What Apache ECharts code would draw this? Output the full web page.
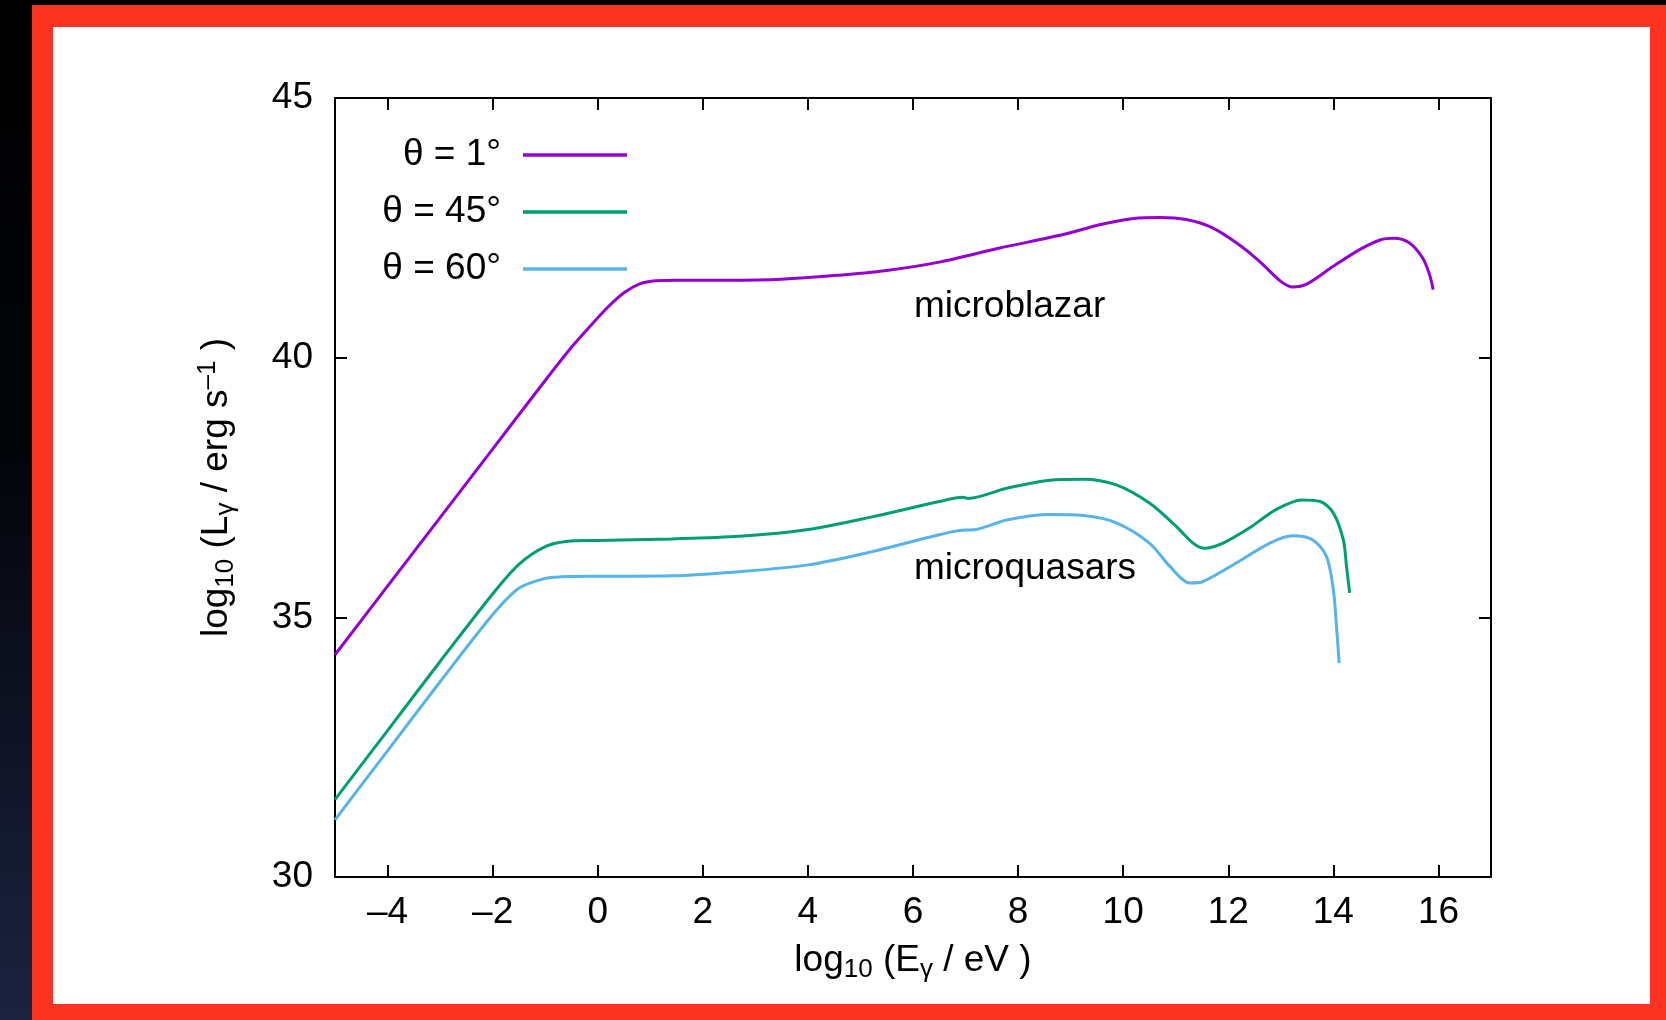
<!DOCTYPE html>
<html>
<head>
<meta charset="utf-8">
<title>Gamma-ray luminosity vs energy</title>
<script src="https://cdn.jsdelivr.net/npm/echarts@6/dist/echarts.min.js"></script>
<style>
  html, body { margin: 0; padding: 0; width: 1666px; height: 1020px; overflow: hidden;
    background: linear-gradient(to bottom, #000 0%, #03050a 45%, #1b2340 100%); }
  #frame { position: absolute; left: 32px; top: 5px; right: 0; bottom: 0; background: #fd3322; }
  #panel { position: absolute; left: 53px; top: 27px; width: 1597px; height: 977px; background: #fff; }
  #chart { position: absolute; left: 0; top: 0; width: 1666px; height: 1020px; }
</style>
</head>
<body>
<div id="frame"></div>
<div id="panel"></div>
<div id="chart"></div>
<script>
// log10(E / eV) and log10(L / erg s^-1) for each viewing angle
const energyTheta1 = [-5, -4, -3, -2, -1, -0.5, -0.15, 0.2, 0.5, 0.8, 1.1, 1.5, 2.5, 3.5, 4.5, 5.5, 6.5, 7.65,
  8.9, 9.55, 10.2, 10.7, 11.2, 11.7, 12.2, 12.6, 13.0, 13.23, 13.5, 14.0, 14.5, 14.9, 15.15, 15.45, 15.7, 15.83, 15.9];
const lumTheta1 = [34.28, 35.6, 36.92, 38.24, 39.56, 40.2, 40.6, 40.98, 41.25, 41.42, 41.48, 41.49, 41.49, 41.51,
  41.58, 41.68, 41.84, 42.11, 42.38, 42.56, 42.68, 42.70, 42.66, 42.50, 42.18, 41.85, 41.47, 41.36, 41.42, 41.76,
  42.08, 42.27, 42.30, 42.21, 41.92, 41.60, 41.31];

const energyTheta45 = [-5, -4, -3, -2, -1.5, -1.0, -0.6, 0, 1.4, 2.7, 4.0, 5.2, 6.5, 6.95, 7.05, 7.8, 8.6, 9.24,
  9.87, 10.5, 11.0, 11.33, 11.55, 11.9, 12.4, 12.9, 13.4, 13.75, 14.0, 14.19, 14.25, 14.31];
const lumTheta45 = [31.49, 32.82, 34.15, 35.45, 36.02, 36.36, 36.46, 36.48, 36.51, 36.56, 36.69, 36.93, 37.23, 37.31,
  37.29, 37.49, 37.64, 37.66, 37.55, 37.20, 36.76, 36.43, 36.33, 36.43, 36.72, 37.07, 37.26, 37.23, 37.01, 36.49,
  35.98, 35.47];

const energyTheta60 = [-5, -4, -3, -2, -1.5, -1.0, -0.7, 0, 1.4, 2.7, 4.0, 5.2, 6.5, 7.0, 7.1, 7.8, 8.6, 9.24, 9.87,
  10.5, 10.89, 11.27, 11.52, 12.16, 12.79, 13.23, 13.61, 13.87, 14.0, 14.06, 14.11];
const lumTheta60 = [31.10, 32.43, 33.76, 35.05, 35.56, 35.75, 35.78, 35.79, 35.80, 35.88, 36.01, 36.26, 36.59, 36.68,
  36.68, 36.88, 36.98, 36.96, 36.82, 36.43, 35.98, 35.66, 35.69, 36.05, 36.43, 36.57, 36.49, 36.17, 35.53, 34.82,
  34.12];

const seriesNames = ['θ = 1°', 'θ = 45°', 'θ = 60°'];
const seriesColors = ['#9400d3', '#009e73', '#56b4e9'];
const xTickValues = [-4, -2, 0, 2, 4, 6, 8, 10, 12, 14, 16];
const regionLabels = ['microblazar', 'microquasars'];

const FONT = '"Liberation Sans", Arial, Helvetica, sans-serif';
const pairs = (xs, ys) => xs.map((x, i) => [x, ys[i]]);

const richTitle = {
  n: { fontSize: 37, lineHeight: 44, fontFamily: FONT, color: '#000' },
  sub: { fontSize: 26, lineHeight: 16, verticalAlign: 'bottom', fontFamily: FONT, color: '#000' },
  sup: { fontSize: 26, lineHeight: 16, verticalAlign: 'top', fontFamily: FONT, color: '#000' }
};

const frameLine = { show: true, onZero: false, lineStyle: { color: '#000', width: 2 } };
const tickStyle = { color: '#000', width: 2 };

const chart = echarts.init(document.getElementById('chart'), null, { renderer: 'canvas' });
chart.setOption({
  backgroundColor: 'transparent',
  animation: false,
  textStyle: { fontFamily: FONT },
  grid: { left: 335, right: 175, top: 98, bottom: 143, containLabel: false },
  legend: {
    orient: 'vertical', align: 'right', right: 1039, top: 133, padding: 0,
    itemWidth: 104, itemHeight: 3.5, itemGap: 13, icon: 'rect',
    selectedMode: false,
    textStyle: { fontSize: 37, lineHeight: 44, color: '#000', fontFamily: FONT, padding: [0, 17, 0, 0] },
    data: seriesNames
  },
  xAxis: [{
    type: 'value', min: -5, max: 17, position: 'bottom',
    axisLine: frameLine,
    axisTick: { show: true, inside: true, length: 12, customValues: xTickValues, lineStyle: tickStyle },
    axisLabel: {
      customValues: xTickValues, margin: 16, fontSize: 37, lineHeight: 40, color: '#000', fontFamily: FONT,
      formatter: v => String(v).replace('-', '\u2013')
    },
    splitLine: { show: false },
    name: '{n|log}{sub|10}{n| (E}{sub|γ}{n| / eV )}',
    nameLocation: 'middle', nameGap: 62,
    nameTextStyle: { rich: richTitle }
  }, {
    type: 'value', min: -5, max: 17, position: 'top',
    axisLine: frameLine,
    axisTick: { show: true, inside: true, length: 12, customValues: xTickValues, lineStyle: tickStyle },
    axisLabel: { show: false },
    splitLine: { show: false }
  }],
  yAxis: [{
    type: 'value', min: 30, max: 45, interval: 5, position: 'left',
    axisLine: frameLine,
    axisTick: { show: true, inside: true, length: 12, lineStyle: tickStyle },
    axisLabel: { margin: 22, fontSize: 37, color: '#000', fontFamily: FONT },
    splitLine: { show: false },
    name: '{n|log}{sub|10}{n| (L}{sub|γ}{n| / erg s}{sup|\u20131}{n| )}',
    nameLocation: 'middle', nameRotate: 90, nameGap: 96,
    nameTextStyle: { rich: richTitle }
  }, {
    type: 'value', min: 30, max: 45, interval: 5, position: 'right',
    axisLine: frameLine,
    axisTick: { show: true, inside: true, length: 12, lineStyle: tickStyle },
    axisLabel: { show: false },
    splitLine: { show: false }
  }],
  series: [
    [energyTheta1, lumTheta1],
    [energyTheta45, lumTheta45],
    [energyTheta60, lumTheta60]
  ].map(([xs, ys], i) => ({
    name: seriesNames[i],
    type: 'line',
    xAxisIndex: 0, yAxisIndex: 0,
    data: pairs(xs, ys),
    showSymbol: false,
    smooth: 0.3,
    color: seriesColors[i],
    lineStyle: { width: 3, color: seriesColors[i] },
    z: 3 - i
  })),
  graphic: [
    { type: 'text', x: 914, y: 307,
      style: { text: regionLabels[0], fontSize: 37, fontFamily: FONT, fill: '#000', align: 'left', verticalAlign: 'middle' } },
    { type: 'text', x: 914, y: 569,
      style: { text: regionLabels[1], fontSize: 37, fontFamily: FONT, fill: '#000', align: 'left', verticalAlign: 'middle' } }
  ]
});
</script>
</body>
</html>
